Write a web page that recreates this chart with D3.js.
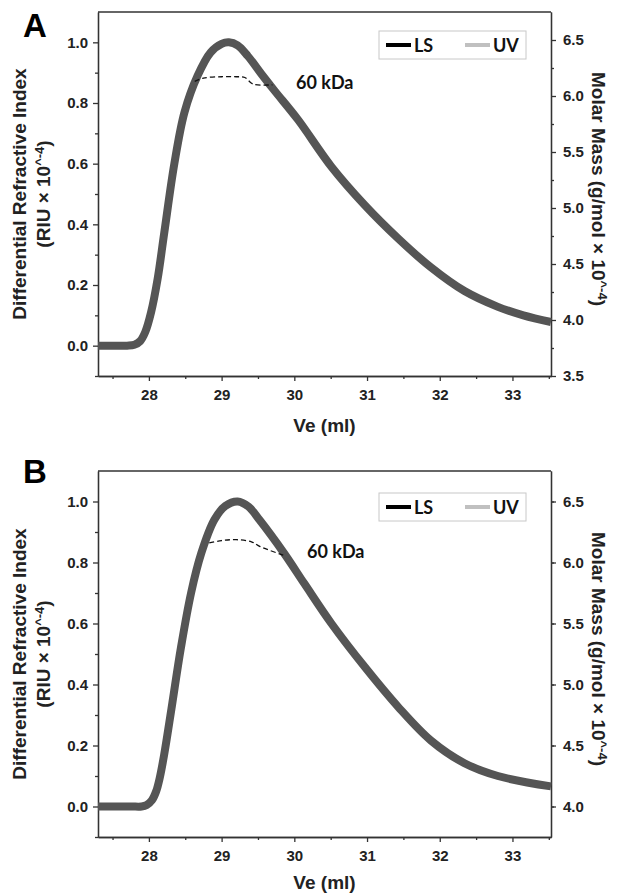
<!DOCTYPE html>
<html>
<head>
<meta charset="utf-8">
<script src="https://cdn.jsdelivr.net/npm/d3@7"></script>
<style>
  body { margin: 0; background: #fff; }
  .axis path, .axis line { stroke: #333; stroke-width: 1.3; }
  .axis text { font-family: "Liberation Sans", Arial, sans-serif; font-weight: bold; font-size: 15px; fill: #222; }
  .title { font-family: "Liberation Sans", Arial, sans-serif; font-weight: bold; font-size: 19px; fill: #222; }
  .note { font-family: Lato, "Open Sans", sans-serif; font-weight: bold; font-size: 18px; fill: #111; }
</style>
</head>
<body>
<div id="chart"></div>
<script>
// ---- data ----
// panel A : dRI trace (Ve in ml, RIU x 10^-4)
var veA  = [27.3, 27.7, 27.8, 27.88, 27.95, 28.03, 28.12, 28.21, 28.35, 28.49, 28.67, 28.85, 29.0, 29.1, 29.22, 29.36, 29.55, 29.73, 30.05, 30.51, 30.97, 31.43, 31.88, 32.34, 32.8, 33.15, 33.53];
var driA = [0.0, 0.0, 0.003, 0.015, 0.045, 0.11, 0.22, 0.37, 0.6, 0.77, 0.89, 0.967, 0.995, 1.0, 0.99, 0.955, 0.895, 0.84, 0.745, 0.59, 0.463, 0.353, 0.258, 0.18, 0.128, 0.1, 0.078];
// panel A : molar mass across the peak (g/mol x 10^-4)
var mmVeA = [28.63, 28.75, 29.0, 29.2, 29.32, 29.43, 29.7];
var mmA   = [6.13, 6.16, 6.172, 6.172, 6.165, 6.107, 6.1];

// panel B
var veB  = [27.3, 27.75, 27.9, 27.97, 28.04, 28.1, 28.15, 28.21, 28.31, 28.44, 28.58, 28.72, 28.9, 29.05, 29.22, 29.37, 29.52, 29.86, 30.14, 30.51, 30.97, 31.43, 31.88, 32.34, 32.8, 33.53];
var driB = [0.0, 0.0, 0.0, 0.005, 0.02, 0.05, 0.095, 0.17, 0.32, 0.52, 0.7, 0.83, 0.94, 0.985, 1.0, 0.983, 0.94, 0.83, 0.73, 0.6, 0.457, 0.326, 0.216, 0.142, 0.1, 0.066];
var mmVeB = [28.83, 29.0, 29.2, 29.41, 29.53, 29.85];
var mmB   = [6.16, 6.18, 6.187, 6.17, 6.13, 6.06];

// ticks / labels
var xTicks = [28, 29, 30, 31, 32, 33];
var xMinor = [27.5, 28.5, 29.5, 30.5, 31.5, 32.5, 33.5];
var yTicks = [0.0, 0.2, 0.4, 0.6, 0.8, 1.0];
var yMinor = [-0.1, 0.1, 0.3, 0.5, 0.7, 0.9];
var rTicksA = [3.5, 4.0, 4.5, 5.0, 5.5, 6.0, 6.5];
var rTicksB = [4.0, 4.5, 5.0, 5.5, 6.0, 6.5];
var legendNames = ["LS", "UV"];
var legendColors = ["#000", "#c0c0c0"];
var massLabel = "60 kDa";

var W = 625, H = 896;

var svg = d3.select("#chart")
  .append("svg")
    .attr("width", W)
    .attr("height", H);

function drawPanel(p) {
  var x = d3.scaleLinear().domain([27.3, 33.53]).range([98, 551]);
  var y = d3.scaleLinear().domain([-0.1, 1.1]).range([p.bottom, p.top]);
  var yR = d3.scaleLinear().domain(p.rDomain).range([p.bottom, p.top]);

  var g = svg.append("g");

  // panel letter
  g.append("text")
    .attr("x", 23).attr("y", p.letterY)
    .style("font-family", "'Liberation Sans', Arial, sans-serif")
    .style("font-weight", "bold").style("font-size", "33px")
    .text(p.letter);

  // top frame line
  g.append("line")
    .attr("x1", 98).attr("x2", 551)
    .attr("y1", p.top).attr("y2", p.top)
    .attr("stroke", "#333").attr("stroke-width", 1.3);

  // x axis
  g.append("g").attr("class", "axis")
    .attr("transform", "translate(0," + p.bottom + ")")
    .call(d3.axisBottom(x).tickValues(xMinor).tickFormat("").tickSize(3).tickSizeOuter(0));
  g.append("g").attr("class", "axis")
    .attr("transform", "translate(0," + p.bottom + ")")
    .call(d3.axisBottom(x).tickValues(xTicks).tickFormat(d3.format("d")).tickSize(5).tickPadding(8).tickSizeOuter(0));

  // left axis
  g.append("g").attr("class", "axis")
    .attr("transform", "translate(98,0)")
    .call(d3.axisLeft(y).tickValues(yMinor).tickFormat("").tickSize(3).tickSizeOuter(0));
  g.append("g").attr("class", "axis")
    .attr("transform", "translate(98,0)")
    .call(d3.axisLeft(y).tickValues(yTicks).tickFormat(d3.format(".1f")).tickSize(5).tickPadding(5).tickSizeOuter(0));

  // right axis
  var rMinor = d3.range(p.rDomain[0] + 0.25, p.rDomain[1], 0.5);
  g.append("g").attr("class", "axis")
    .attr("transform", "translate(551,0)")
    .call(d3.axisRight(yR).tickValues(rMinor).tickFormat("").tickSize(3).tickSizeOuter(0));
  g.append("g").attr("class", "axis")
    .attr("transform", "translate(551,0)")
    .call(d3.axisRight(yR).tickValues(p.rTicks).tickFormat(d3.format(".1f")).tickSize(5).tickPadding(7).tickSizeOuter(0));

  // titles
  var midY = (p.top + p.bottom) / 2;
  g.append("text").attr("class", "title")
    .attr("text-anchor", "middle")
    .attr("x", 324.5).attr("y", p.xTitleY)
    .text("Ve (ml)");

  g.append("text").attr("class", "title")
    .attr("text-anchor", "middle")
    .attr("transform", "translate(26," + midY + ") rotate(-90)")
    .text("Differential Refractive Index");

  var t2 = g.append("text").attr("class", "title")
    .attr("text-anchor", "middle")
    .attr("transform", "translate(50," + midY + ") rotate(-90)");
  t2.append("tspan").text("(RIU × 10");
  t2.append("tspan").attr("dy", "-0.45em").style("font-size", "13px").text("^-4");
  t2.append("tspan").attr("dy", "0.3em").text(")");

  var t3 = g.append("text").attr("class", "title")
    .attr("text-anchor", "middle")
    .attr("transform", "translate(592," + (midY - 5) + ") rotate(90)");
  t3.append("tspan").text("Molar Mass (g/mol × 10");
  t3.append("tspan").attr("dy", "-0.45em").style("font-size", "13px").text("^-4");
  t3.append("tspan").attr("dy", "0.3em").text(")");

  // dRI trace
  var line = d3.line()
    .x(function(d) { return x(d[0]); })
    .y(function(d) { return y(d[1]); })
    .curve(d3.curveCatmullRom.alpha(0.5));

  g.append("path")
    .datum(d3.zip(p.ve, p.dri))
    .attr("fill", "none")
    .attr("stroke", "#555")
    .attr("stroke-width", 8)
    .attr("stroke-linejoin", "round")
    .attr("d", line);

  // molar mass (dashed, right axis)
  var mmLine = d3.line()
    .x(function(d) { return x(d[0]); })
    .y(function(d) { return yR(d[1]); })
    .curve(d3.curveCatmullRom.alpha(0.5));

  g.append("path")
    .datum(d3.zip(p.mmVe, p.mm))
    .attr("fill", "none")
    .attr("stroke", "#111")
    .attr("stroke-width", 1.3)
    .attr("stroke-dasharray", "5,3")
    .attr("d", mmLine);

  g.append("text").attr("class", "note")
    .attr("x", p.noteX).attr("y", p.noteY)
    .text(massLabel);

  // legend
  var lg = g.append("g").attr("transform", "translate(379," + p.legendY + ")");
  lg.append("rect")
    .attr("width", 147).attr("height", 28)
    .attr("fill", "#fff").attr("stroke", "#c8c8c8");
  legendNames.forEach(function(n, i) {
    lg.append("line")
      .attr("x1", 7 + i * 79).attr("x2", 32 + i * 79)
      .attr("y1", 14).attr("y2", 14)
      .attr("stroke", legendColors[i]).attr("stroke-width", 4);
    lg.append("text").attr("class", "note")
      .attr("x", 35 + i * 79).attr("y", 20.5)
      .text(n);
  });
}

drawPanel({letter: "A", letterY: 37, top: 12, bottom: 376, rDomain: [3.5, 6.75], rTicks: rTicksA,
  ve: veA, dri: driA, mmVe: mmVeA, mm: mmA, noteX: 296, noteY: 89, legendY: 31, xTitleY: 432});
drawPanel({letter: "B", letterY: 483, top: 471, bottom: 837, rDomain: [3.75, 6.75], rTicks: rTicksB,
  ve: veB, dri: driB, mmVe: mmVeB, mm: mmB, noteX: 307, noteY: 558, legendY: 493, xTitleY: 889});
</script>
</body>
</html>
